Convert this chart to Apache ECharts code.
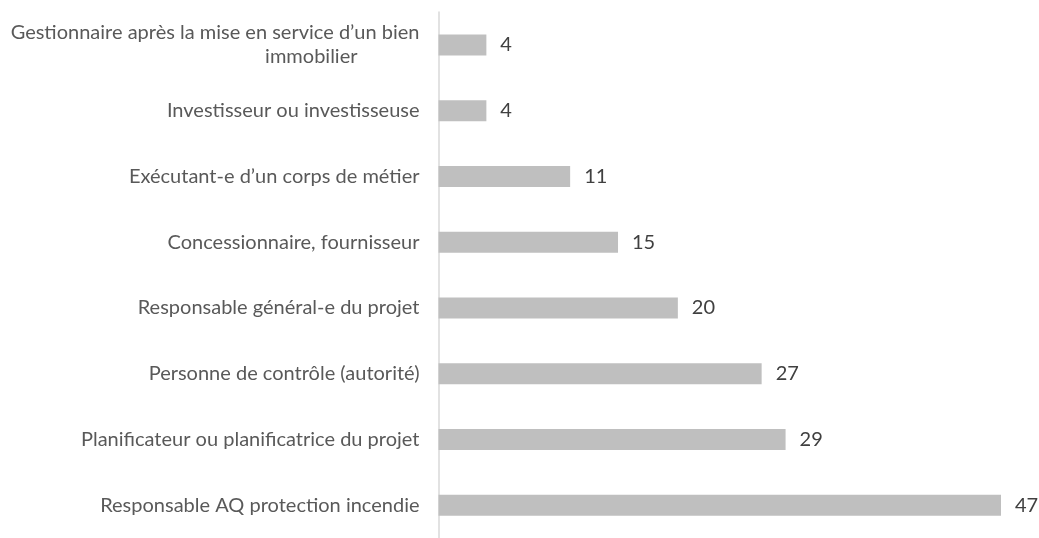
<!DOCTYPE html>
<html>
<head>
<meta charset="utf-8">
<script src="https://cdn.jsdelivr.net/npm/echarts@6/dist/echarts.min.js"></script>
<style>
  html, body { margin: 0; padding: 0; background: #fff; }
  #chart { width: 1039px; height: 538px; }
</style>
</head>
<body>
<div id="chart"></div>
<script>
// catégories, du bas vers le haut
const categories = [
  'Responsable AQ protection incendie',
  'Planificateur ou planificatrice du projet',
  'Personne de contrôle (autorité)',
  'Responsable général-e du projet',
  'Concessionnaire, fournisseur',
  'Exécutant-e d’un corps de métier',
  'Investisseur ou investisseuse',
  'Gestionnaire après la mise en service d’un bien immobilier'
];
const values = [47, 29, 27, 20, 15, 11, 4, 4];

const font = 'Lato, "Open Sans", sans-serif';
const fs = 20;

const myChart = echarts.init(document.getElementById('chart'));
const option = {
  animation: false,
  grid: {
    left: 438.5,
    right: 38,
    top: 12,
    bottom: -9.5,
    containLabel: false
  },
  xAxis: {
    type: 'value',
    min: 0,
    max: 47,
    show: false
  },
  yAxis: {
    type: 'category',
    data: categories,
    axisLine: {
      show: true,
      lineStyle: {color: '#d9d9d9', width: 1.5}
    },
    axisTick: {show: false},
    axisLabel: {
      margin: 19,
      color: '#595959',
      fontFamily: font,
      fontSize: fs,
      lineHeight: 24,
      formatter: function (v) {
        // retour à la ligne comme dans l'original
        if (v.indexOf('bien immobilier') > 0) {
          return '{a|' + v.replace(' immobilier', '') + '}\n{b|immobilier}';
        }
        return v;
      },
      rich: {
        a: {color: '#595959', fontFamily: font, fontSize: fs, lineHeight: 24},
        b: {color: '#595959', fontFamily: font, fontSize: fs, lineHeight: 24, align: 'right', padding: [0, 62, 0, 0]}
      }
    }
  },
  series: [
    {
      type: 'bar',
      data: values,
      barWidth: 21,
      itemStyle: {color: '#bfbfbf'},
      label: {
        show: true,
        position: 'right',
        distance: 14,
        color: '#404040',
        fontFamily: font,
        fontSize: fs
      }
    }
  ]
};
myChart.setOption(option);
</script>
</body>
</html>
